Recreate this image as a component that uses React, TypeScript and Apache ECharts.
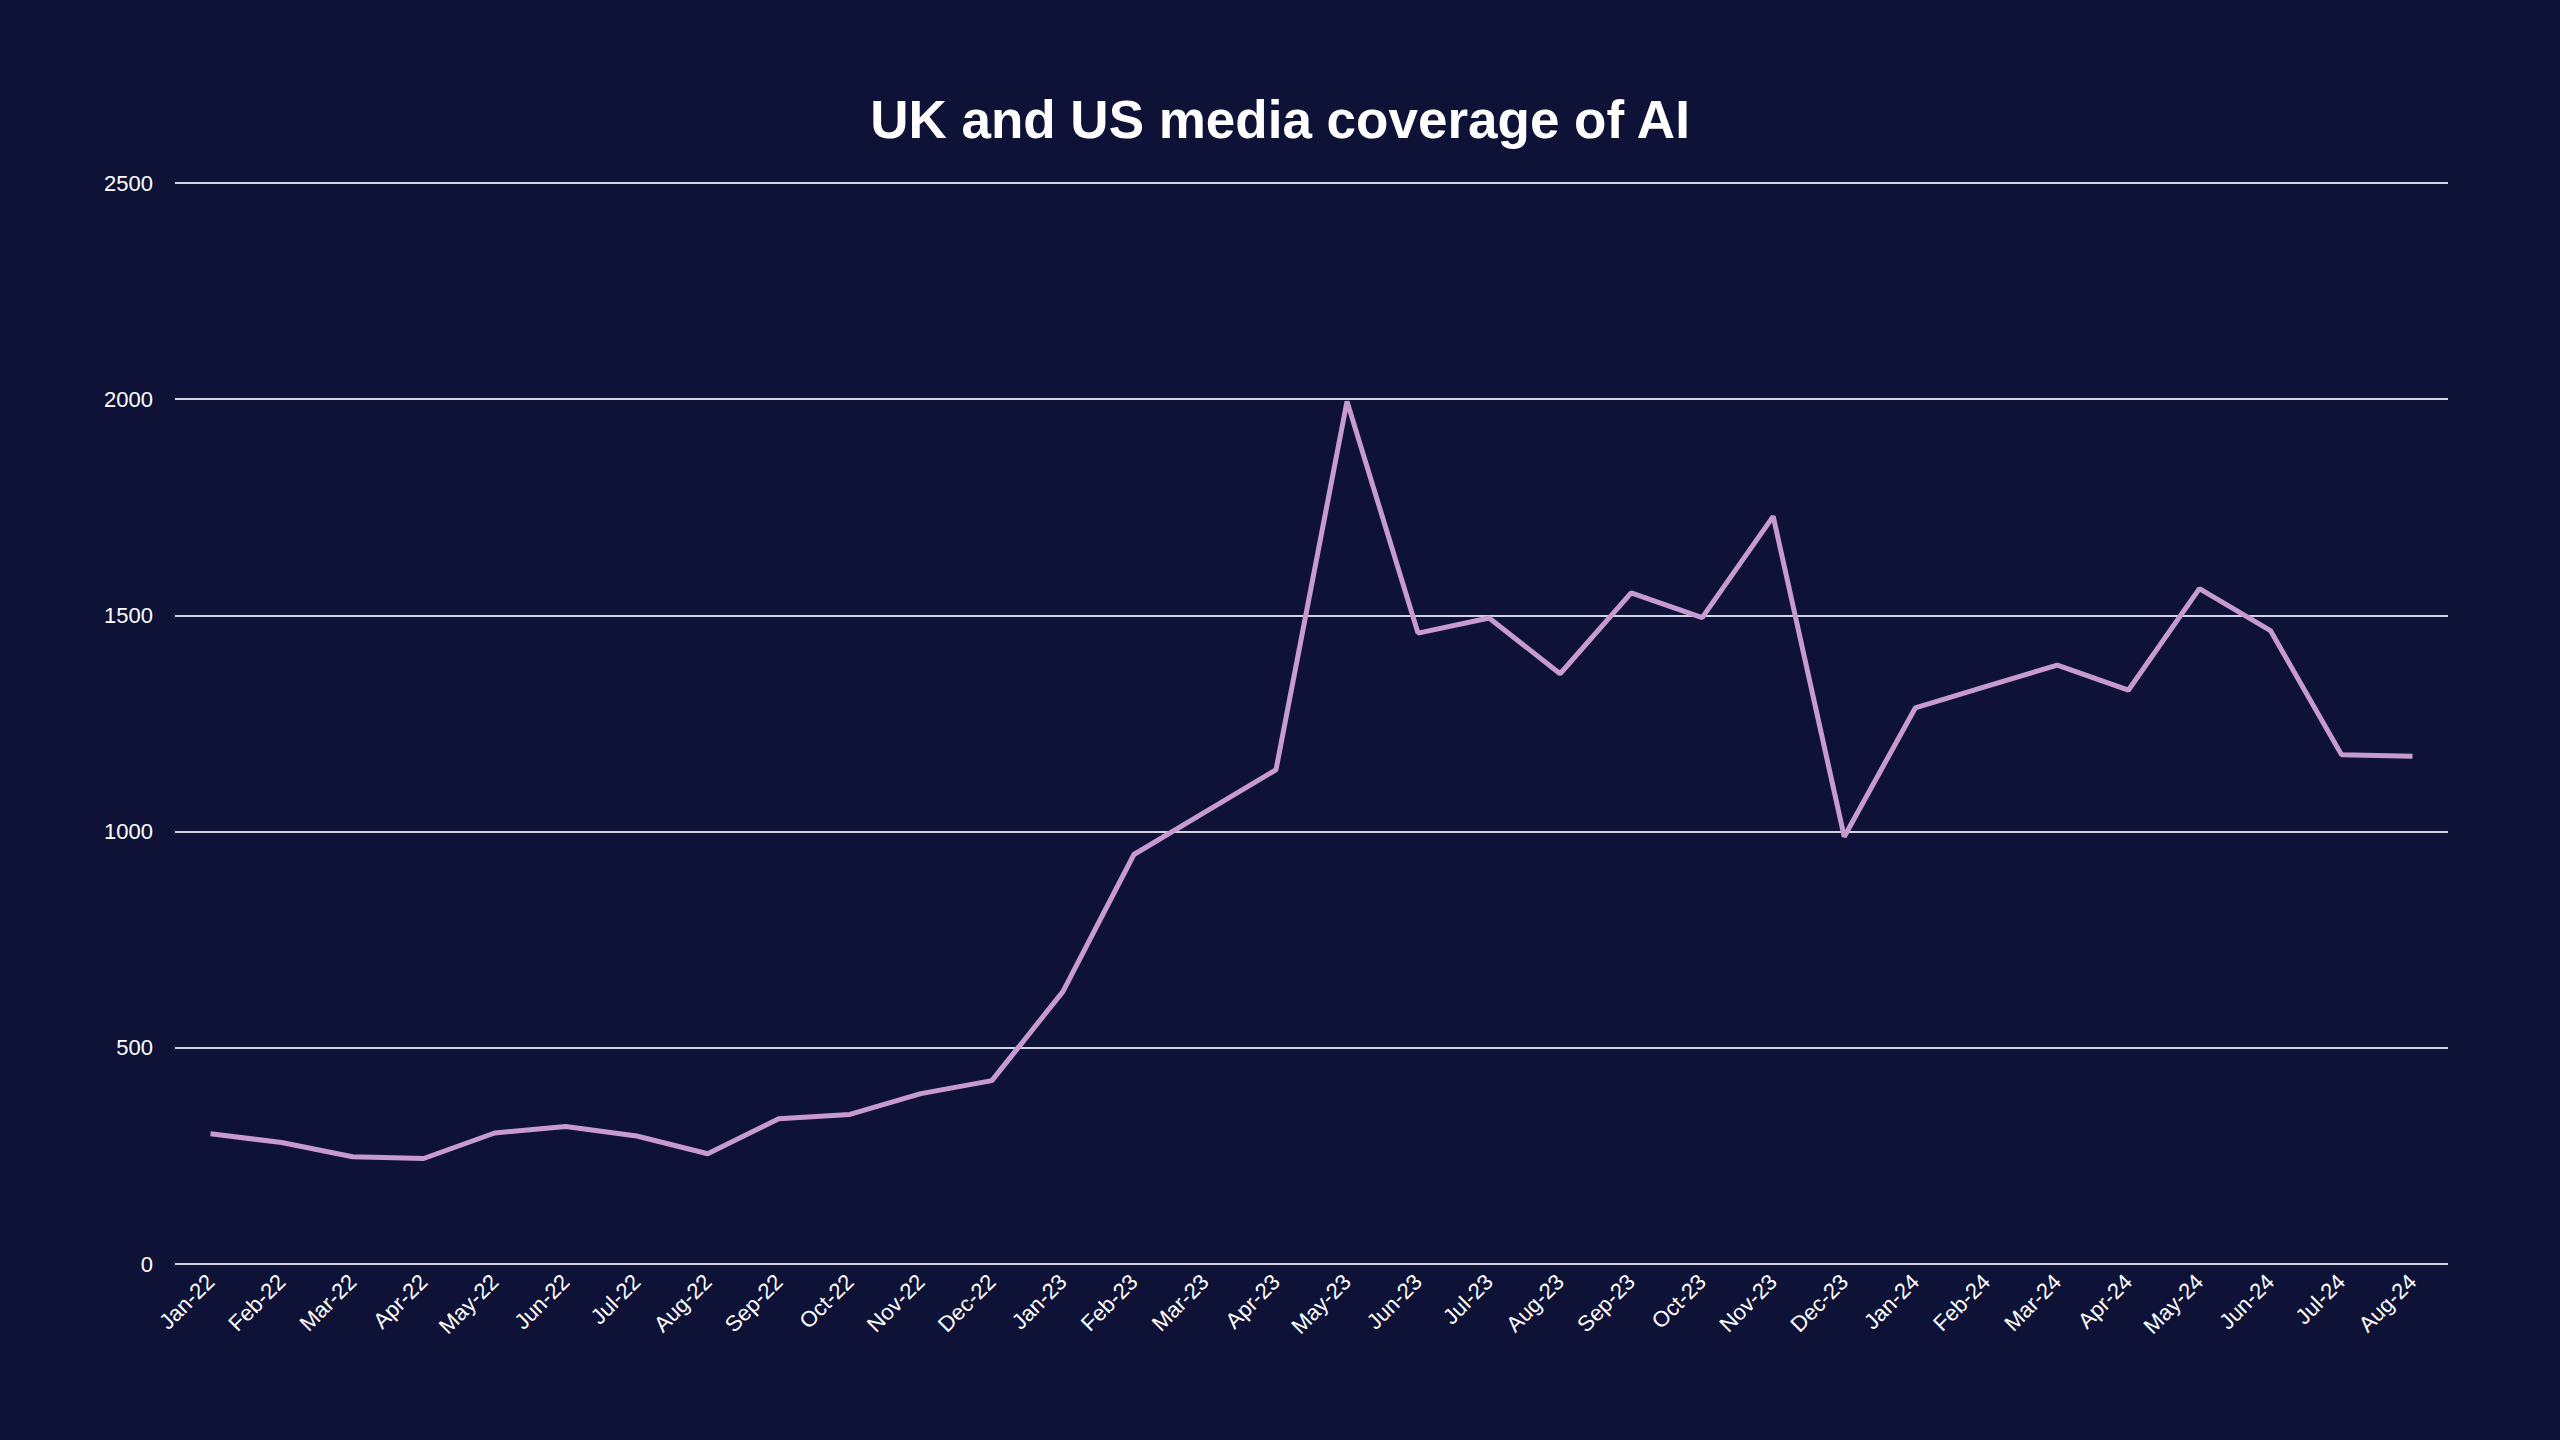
import React, { useEffect, useRef } from 'react';
import * as echarts from 'echarts';

// monthly article counts
const months = [
  'Jan-22', 'Feb-22', 'Mar-22', 'Apr-22', 'May-22', 'Jun-22', 'Jul-22', 'Aug-22',
  'Sep-22', 'Oct-22', 'Nov-22', 'Dec-22', 'Jan-23', 'Feb-23', 'Mar-23', 'Apr-23',
  'May-23', 'Jun-23', 'Jul-23', 'Aug-23', 'Sep-23', 'Oct-23', 'Nov-23', 'Dec-23',
  'Jan-24', 'Feb-24', 'Mar-24', 'Apr-24', 'May-24', 'Jun-24', 'Jul-24', 'Aug-24',
];

const coverage = [
  301, 281, 248, 244, 303, 318, 296, 255,
  336, 346, 394, 424, 630, 947, 1045, 1143,
  1995, 1459, 1494, 1365, 1552, 1495, 1729, 988,
  1286, 1336, 1385, 1327, 1562, 1465, 1178, 1174,
];

const yTicks = [0, 500, 1000, 1500, 2000, 2500];

const BG = '#0f1237';
const LINE = '#c79bd2';
const GRID = '#d4d4e4';
const FONT = '"Liberation Sans", Arial, Helvetica, sans-serif';

const App: React.FC = () => {
  const chartRef = useRef<HTMLDivElement>(null);

  useEffect(() => {
    if (!chartRef.current) return;
    const chart = echarts.init(chartRef.current, undefined, { renderer: 'svg' });

    const option: echarts.EChartsOption = {
      animation: false,
      backgroundColor: BG,
      title: {
        text: 'UK and US media coverage of AI',
        left: 'center',
        top: 88,
        textStyle: {
          color: '#ffffff',
          fontFamily: FONT,
          fontWeight: 'bold',
          fontSize: 53,
        },
      },
      grid: {
        left: 175,
        right: 112,
        top: 183,
        bottom: 176,
      },
      xAxis: {
        type: 'category',
        data: months,
        boundaryGap: true,
        axisLine: { show: false },
        axisTick: { show: false },
        axisLabel: {
          color: '#ffffff',
          fontFamily: FONT,
          fontSize: 22,
          rotate: 45,
          margin: 14,
          interval: 0,
        },
      },
      yAxis: {
        type: 'value',
        min: yTicks[0],
        max: yTicks[yTicks.length - 1],
        interval: 500,
        axisLine: { show: false },
        axisTick: { show: false },
        axisLabel: {
          color: '#ffffff',
          fontFamily: FONT,
          fontSize: 22,
          margin: 22,
          formatter: (value: number) => String(value),
        },
        splitLine: {
          lineStyle: { color: GRID, width: 2 },
        },
      },
      series: [
        {
          name: 'Coverage',
          type: 'line',
          data: coverage,
          symbol: 'none',
          lineStyle: { color: LINE, width: 5 },
        },
      ],
    };

    chart.setOption(option);

    return () => {
      chart.dispose();
    };
  }, []);

  return (
    <div
      ref={chartRef}
      style={{ position: 'fixed', left: 0, top: 0, width: '100vw', height: '100vh', background: BG }}
    />
  );
};

export default App;
